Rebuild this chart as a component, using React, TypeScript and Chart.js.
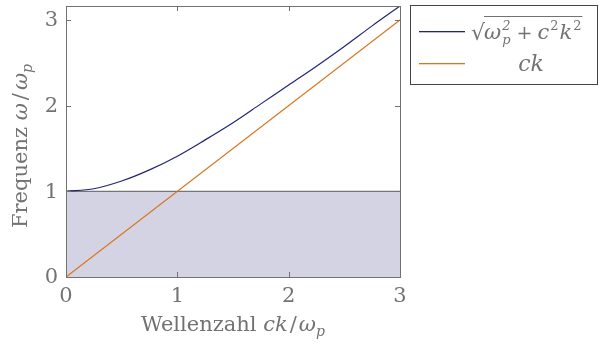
import React, { useEffect, useRef } from "react";
import { Chart, registerables } from "chart.js";
Chart.register(...registerables);

const kValues = [0, 0.25, 0.5, 0.75, 1, 1.25, 1.5, 1.75, 2, 2.25, 2.5, 2.75, 3];
const omegaValues = [1.0, 1.03, 1.12, 1.25, 1.41, 1.6, 1.8, 2.02, 2.24, 2.46, 2.69, 2.93, 3.162];
const lightK = [0, 3];
const lightOmega = [0, 3];
const bandK = [0, 3];
const bandOmega = [1, 1];
const xTicks = [0, 1, 2, 3];
const yTicks = [0, 1, 2, 3];

const FONT = "'DejaVu Serif', serif";
const GREY = "#727272";
const BLUE = "#23237a";
const ORANGE = "#d9741c";

const innerTicks = {
  id: "innerTicks",
  afterDatasetsDraw(chart: any) {
    const { ctx, chartArea: a, scales } = chart;
    ctx.save();
    ctx.strokeStyle = GREY;
    ctx.lineWidth = 1;
    ctx.beginPath();
    for (const v of xTicks) {
      const x = Math.round(scales.x.getPixelForValue(v)) + 0.5;
      ctx.moveTo(x, a.bottom);
      ctx.lineTo(x, a.bottom - 5);
      ctx.moveTo(x, a.top);
      ctx.lineTo(x, a.top + 5);
    }
    for (const v of yTicks) {
      const y = Math.round(scales.y.getPixelForValue(v)) + 0.5;
      ctx.moveTo(a.left, y);
      ctx.lineTo(a.left + 5, y);
      ctx.moveTo(a.right, y);
      ctx.lineTo(a.right - 5, y);
    }
    ctx.stroke();
    ctx.strokeRect(Math.round(a.left) + 0.5, Math.round(a.top) + 0.5, Math.round(a.right - a.left), Math.round(a.bottom - a.top));
    ctx.fillStyle = GREY;
    ctx.font = `21px ${FONT}`;
    ctx.textAlign = "right";
    ctx.textBaseline = "middle";
    for (const v of yTicks) ctx.fillText(String(v), a.left - 8, scales.y.getPixelForValue(v) + 1);
    ctx.textAlign = "center";
    ctx.textBaseline = "top";
    for (const v of xTicks) ctx.fillText(String(v), scales.x.getPixelForValue(v), a.bottom + 9);
    ctx.restore();
  },
};

const legendPlugin = {
  id: "mathLegend",
  afterDraw(chart: any) {
    const { ctx } = chart;
    ctx.save();
    ctx.fillStyle = "#fff";
    ctx.fillRect(410, 5, 189, 80);
    ctx.strokeStyle = "#444";
    ctx.lineWidth = 1;
    ctx.strokeRect(410.5, 5.5, 187, 79);
    ctx.fillStyle = BLUE;
    ctx.fillRect(419, 31, 46, 1.3);
    ctx.fillStyle = ORANGE;
    ctx.fillRect(419, 63, 46, 1.3);

    ctx.fillStyle = GREY;
    ctx.textAlign = "left";
    ctx.textBaseline = "alphabetic";
    let x = 471;
    const base = 39;
    ctx.font = `22px ${FONT}`;
    ctx.fillText("√", x, base + 1);
    x += ctx.measureText("√").width - 1;
    const barStart = x;
    ctx.font = `italic 21px ${FONT}`;
    ctx.fillText("ω", x, base);
    x += ctx.measureText("ω").width + 1;
    ctx.font = `italic 13px ${FONT}`;
    ctx.fillText("2", x, base - 9);
    ctx.fillText("p", x, base + 5);
    x += Math.max(ctx.measureText("2").width, ctx.measureText("p").width) + 1;
    ctx.font = `19px ${FONT}`;
    ctx.fillText("+", x + 5, base);
    x += ctx.measureText("+").width + 10;
    ctx.font = `italic 21px ${FONT}`;
    ctx.fillText("c", x, base);
    x += ctx.measureText("c").width + 1;
    ctx.font = `13px ${FONT}`;
    ctx.fillText("2", x, base - 9);
    x += ctx.measureText("2").width + 1;
    ctx.font = `italic 21px ${FONT}`;
    ctx.fillText("k", x, base);
    x += ctx.measureText("k").width + 1;
    ctx.font = `13px ${FONT}`;
    ctx.fillText("2", x, base - 9);
    x += ctx.measureText("2").width + 1;
    ctx.fillRect(barStart, 16, x - barStart, 1);

    ctx.font = `italic 22px ${FONT}`;
    ctx.textAlign = "center";
    ctx.fillText("ck", 531, 71);
    ctx.restore();
  },
};

export default function App() {
  const ref = useRef<HTMLCanvasElement>(null);
  useEffect(() => {
    const chart = new Chart(ref.current!, {
      type: "scatter",
      data: {
        datasets: [
          {
            data: bandK.map((k, i) => ({ x: k, y: bandOmega[i] })),
            showLine: true,
            borderColor: "#5a5a5a",
            borderWidth: 1,
            backgroundColor: "#d3d3e3",
            fill: "origin",
            pointRadius: 0,
            order: 3,
          },
          {
            data: lightK.map((k, i) => ({ x: k, y: lightOmega[i] })),
            showLine: true,
            borderColor: ORANGE,
            borderWidth: 1.2,
            pointRadius: 0,
            fill: false,
            order: 2,
          },
          {
            data: kValues.map((k, i) => ({ x: k, y: omegaValues[i] })),
            showLine: true,
            borderColor: BLUE,
            borderWidth: 1.2,
            pointRadius: 0,
            cubicInterpolationMode: "monotone",
            fill: false,
            order: 1,
          },
        ],
      },
      options: {
        animation: false,
        responsive: false,
        layout: { padding: { top: 6, right: 199, left: 0, bottom: 0 } },
        plugins: { legend: { display: false }, tooltip: { enabled: false } },
        scales: {
          x: {
            type: "linear",
            min: 0,
            max: 3,
            afterFit: (s: any) => { s.height = 66; s.paddingLeft = 0; s.paddingRight = 0; },
            grid: { display: false },
            border: { display: false },
            ticks: { display: false },
          },
          y: {
            type: "linear",
            min: 0,
            max: 3.162,
            afterFit: (s: any) => { s.width = 66; s.paddingTop = 0; s.paddingBottom = 0; },
            grid: { display: false },
            border: { display: false },
            ticks: { display: false },
          },
        },
      },
      plugins: [innerTicks, legendPlugin],
    });
    return () => chart.destroy();
  }, []);

  const it: React.CSSProperties = { fontStyle: "italic" };
  const sub: React.CSSProperties = { fontStyle: "italic", fontSize: 14, verticalAlign: "-5px", lineHeight: 0 };
  return (
    <div style={{ position: "absolute", left: 0, top: 0, width: 599, height: 343, fontFamily: FONT, color: GREY }}>
      <canvas ref={ref} width={599} height={343} style={{ display: "block" }} />
      <div style={{ position: "absolute", left: 233, top: 312, transform: "translateX(-50%)", fontSize: 21, whiteSpace: "nowrap" }}>
        Wellenzahl <span style={it}>ck</span><span style={{ margin: "0 2px" }}>/</span><span style={it}>ω</span><span style={sub}>p</span>
      </div>
      <div style={{ position: "absolute", left: 20, top: 146, transform: "translate(-50%,-50%) rotate(-90deg)", fontSize: 21, whiteSpace: "nowrap" }}>
        Frequenz <span style={it}>ω</span><span style={{ margin: "0 3px" }}>/</span><span style={it}>ω</span><span style={sub}>p</span>
      </div>
    </div>
  );
}
